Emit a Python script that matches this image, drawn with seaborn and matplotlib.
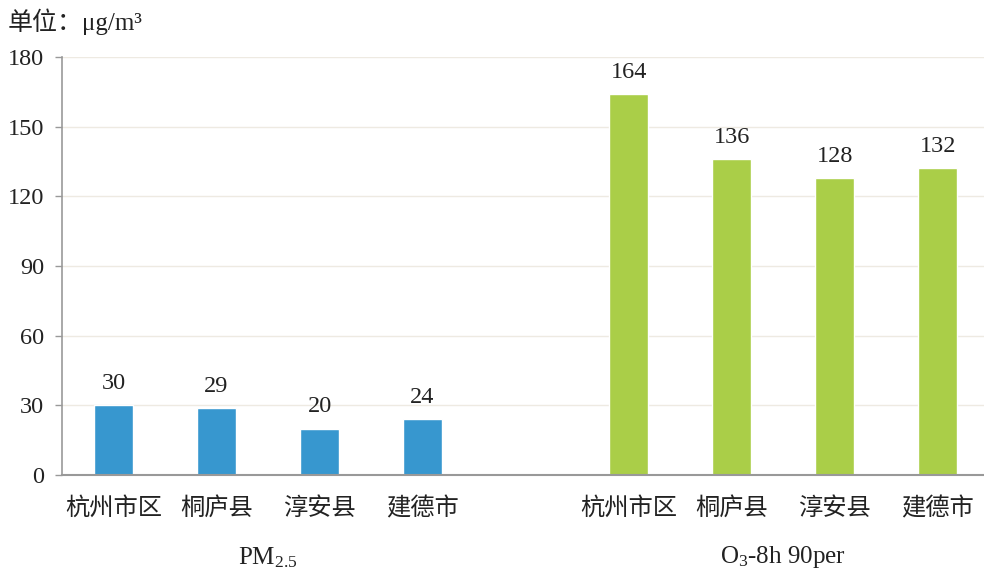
import pandas as pd
import matplotlib.pyplot as plt
import seaborn as sns

# --- data ---
cities = ['杭州市区', '桐庐县', '淳安县', '建德市']
groups = ['PM$_{2.5}$', 'O$_3$-8h 90per']
pm25 = [30, 29, 20, 24]
o3 = [164, 136, 128, 132]
colors = ['#3797CF', '#AACE48']

rows = []
for g, vals in enumerate([pm25, o3]):
    for i, v in enumerate(vals):
        rows.append({'pos': g * (len(cities) + 1) + i, 'group': g, 'city': cities[i], 'value': v})
df = pd.DataFrame(rows)

sns.set_style('white')
plt.rcParams['font.family'] = ['Liberation Serif', 'Noto Sans CJK SC']
plt.rcParams['mathtext.fontset'] = 'custom'
plt.rcParams['mathtext.rm'] = 'Liberation Serif'
plt.rcParams['mathtext.it'] = 'Liberation Serif'

fig = plt.figure(figsize=(9.84, 5.74), dpi=100)
ax = fig.add_axes([62 / 984, 99 / 574, 922 / 984, 418 / 574])

sns.barplot(data=df, x='pos', y='value', hue='group', palette=colors,
            native_scale=True, width=0.38, dodge=False, legend=False,
            saturation=1, ax=ax)

for c in ax.containers:
    ax.bar_label(c, fmt='%d', padding=8, fontsize=17.5, color='#222222')

ax.set_xlim(-0.5, 8.45)
ax.set_ylim(0, 180)
ax.set_yticks(range(0, 181, 30))
ax.yaxis.grid(True, color='#EEEAE2', linewidth=1)
ax.set_axisbelow(True)
ax.set_xticks(df['pos'])
ax.set_xticklabels(df['city'], fontsize=17.5, color='#222222')
ax.tick_params(axis='x', length=0, pad=16)
ax.tick_params(axis='y', length=5, width=1, color='#999999', labelsize=17.5,
               labelcolor='#222222', direction='out', pad=8, left=True)
ax.set_xlabel('')
ax.set_ylabel('')
for s in ['top', 'right']:
    ax.spines[s].set_visible(False)
ax.spines['left'].set_color('#999999')
ax.spines['bottom'].set_color('#999999')
ax.spines['left'].set_linewidth(1.2)
ax.spines['bottom'].set_linewidth(1.5)

# group labels under each block
for g, name in enumerate(groups):
    centre = df.loc[df['group'] == g, 'pos'].mean()
    ax.text(centre, -0.197, name, transform=ax.get_xaxis_transform(),
            ha='center', va='center', fontsize=18, color='#222222')

fig.text(8 / 984, 1 - 22 / 574, '单位：μg/m³', fontsize=18, color='#222222',
         ha='left', va='center')

fig.savefig('out.png', dpi=100)
